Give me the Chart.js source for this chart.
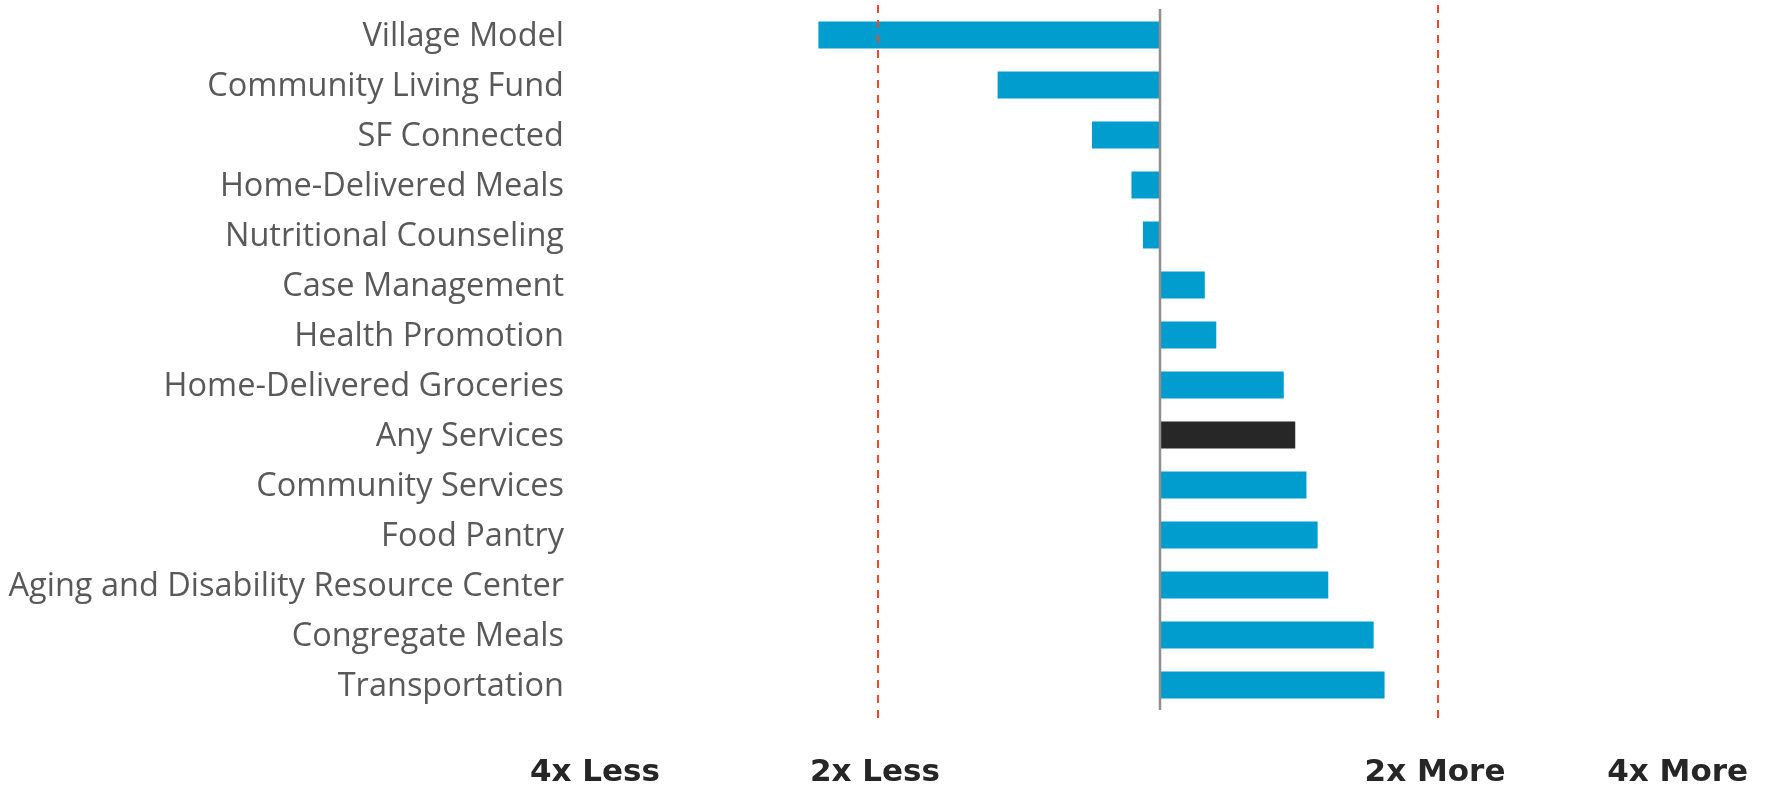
<!DOCTYPE html>
<html>
<head>
<meta charset="utf-8">
<script src="https://cdn.jsdelivr.net/npm/chart.js@4.4.1/dist/chart.umd.min.js"></script>
<style>
  html, body { margin: 0; padding: 0; background: #fff; }
  #wrap { width: 1768px; height: 788px; position: relative; }
</style>
</head>
<body>
<div id="wrap"><canvas id="ratioChart"></canvas></div>
<script>
// categories, top to bottom
const programs = [
    'Village Model',
    'Community Living Fund',
    'SF Connected',
    'Home-Delivered Meals',
    'Nutritional Counseling',
    'Case Management',
    'Health Promotion',
    'Home-Delivered Groceries',
    'Any Services',
    'Community Services',
    'Food Pantry',
    'Aging and Disability Resource Center',
    'Congregate Meals',
    'Transportation'
];
// log2 of the ratio (1 = 2x more, -1 = 2x less)
const log2Ratio = [-1.22, -0.58, -0.243, -0.102, -0.061, 0.16, 0.201, 0.442, 0.483, 0.523, 0.563, 0.601, 0.763, 0.802];
const highlighted = 'Any Services';

const tickValues = [-2, -1, 1, 2];
const tickLabels = ['4x Less', '2x Less', '2x More', '4x More'];
const dashedAt = [-1, 1];
const baseline = 0;

const BLUE = '#009DCE';
const DARK = '#282728';

// reference lines: grey baseline and red dashed 2x markers
const refLines = {
    id: 'refLines',
    afterDatasetsDraw(chart) {
        const { ctx, chartArea } = chart;
        const x = chart.scales.x;
        ctx.save();
        const bx = Math.round(x.getPixelForValue(baseline));
        ctx.strokeStyle = '#8f8f8f';
        ctx.lineWidth = 2.5;
        ctx.beginPath();
        ctx.moveTo(bx, chartArea.top - 1);
        ctx.lineTo(bx, chartArea.bottom);
        ctx.stroke();

        ctx.strokeStyle = '#F04A24';
        ctx.lineWidth = 2;
        ctx.setLineDash([8, 7]);
        dashedAt.forEach(v => {
            const px = Math.round(x.getPixelForValue(v)) - 2;
            ctx.beginPath();
            ctx.moveTo(px, chartArea.top - 5);
            ctx.lineTo(px, chartArea.bottom + 8);
            ctx.stroke();
        });
        ctx.restore();
    },
    // keep edge tick labels inside the canvas
    beforeDraw(chart) {
        const sx = chart.scales.x;
        const items = sx.getLabelItems();
        const ctx = chart.ctx;
        items.forEach(item => {
            ctx.save();
            ctx.font = item.font.string;
            const w = ctx.measureText(item.label).width;
            ctx.restore();
            const t = item.options.translation;
            const maxX = chart.width - 20 - w / 2;
            if (t[0] > maxX) t[0] = maxX;
        });
    }
};

document.addEventListener('DOMContentLoaded', () => {
    const el = document.getElementById('ratioChart');
    new Chart(el, {
        type: 'bar',
        data: {
            labels: programs,
            datasets: [{
                data: log2Ratio,
                backgroundColor: c => programs[c.dataIndex] === highlighted ? DARK : BLUE,
                borderWidth: 0,
                barPercentage: 0.54,
                categoryPercentage: 1
            }]
        },
        options: {
            indexAxis: 'y',
            responsive: true,
            maintainAspectRatio: false,
            animation: false,
            layout: { padding: { top: 10, right: 48, bottom: 0, left: 0 } },
            plugins: {
                legend: { display: false },
                tooltip: { enabled: false }
            },
            scales: {
                x: {
                    min: -2,
                    max: 2,
                    grid: { display: false, drawTicks: false },
                    border: { display: false },
                    afterBuildTicks: s => { s.ticks = tickValues.map(v => ({ value: v })); },
                    afterFit: s => {
                        s.height = 78;
                        s.paddingLeft = 0; s.paddingRight = 0;
                    },
                    ticks: {
                        autoSkip: false,
                        maxRotation: 0,
                        padding: 44,
                        labelOffset: -5,
                        color: '#262626',
                        font: { family: '"DejaVu Sans", sans-serif', weight: 'bold', size: 31 },
                        callback: v => tickLabels[tickValues.indexOf(v)]
                    }
                },
                y: {
                    grid: { display: false, drawTicks: false },
                    border: { display: false },
                    afterFit: s => {
                        s.width = 600;
                        s.paddingTop = 0; s.paddingBottom = 0;
                    },
                    ticks: {
                        autoSkip: false,
                        padding: 36,
                        labelOffset: 2,
                        color: '#595959',
                        font: { family: '"Open Sans", sans-serif', size: 32.5 }
                    }
                }
            }
        },
        plugins: [refLines]
    });
});
</script>
</body>
</html>
